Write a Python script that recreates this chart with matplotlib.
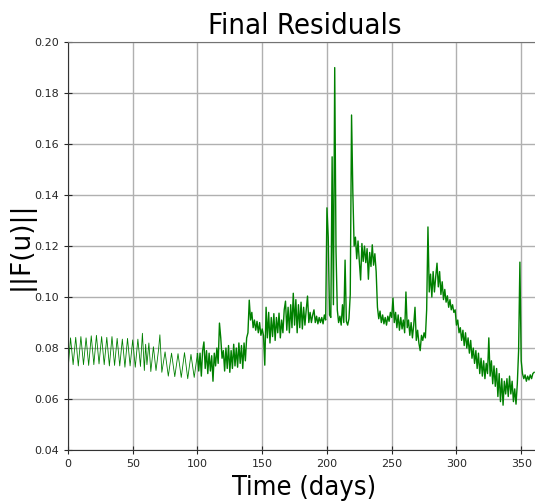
#!/usr/bin/env python3

import matplotlib
matplotlib.use('Agg')
import matplotlib.pyplot as plt
import numpy

#early part, oscillating (peak / trough days)
daysEarly = [0, 2, 4, 6, 8, 10, 12, 14, 16, 18, 20, 22, 24, 26, 28, 30, 32, 34, 36, 38,
             40, 42, 44, 46, 48, 50, 52, 54, 56, 57.5, 59, 60, 61, 62.5, 64, 66, 68, 70, 71, 72.5,
             75, 77.5, 80, 82.5, 85, 87.5, 90, 92.5, 95, 97.5, 100]
residEarly = [0.071, 0.084, 0.0735, 0.0842, 0.073, 0.0845, 0.0735, 0.084, 0.0732, 0.0848,
              0.0735, 0.085, 0.0738, 0.0845, 0.0735, 0.0842, 0.073, 0.0845, 0.0732, 0.0838,
              0.073, 0.0835, 0.0725, 0.0838, 0.073, 0.0832, 0.0725, 0.0835, 0.0728, 0.0858,
              0.0712, 0.0815, 0.0735, 0.082, 0.0708, 0.0805, 0.0712, 0.0795, 0.0852, 0.0705,
              0.0785, 0.069, 0.078, 0.0688, 0.0778, 0.0685, 0.0782, 0.068, 0.0775, 0.0685, 0.0778]

#daily values from day 101 to 360
daysLate = numpy.arange(101, 361)
residLate = [
    0.071, 0.078, 0.069, 0.079, 0.0824, 0.072, 0.079, 0.070, 0.078, 0.071,
    0.077, 0.067, 0.078, 0.073, 0.080, 0.074, 0.0898, 0.084, 0.076, 0.079,
    0.071, 0.080, 0.072, 0.081, 0.0705, 0.079, 0.072, 0.0815, 0.073, 0.080,
    0.0725, 0.082, 0.074, 0.081, 0.072, 0.082, 0.075, 0.084, 0.086, 0.0988,
    0.091, 0.094, 0.088, 0.091, 0.087, 0.0905, 0.086, 0.090, 0.085, 0.0875,
    0.085, 0.0733, 0.096, 0.084, 0.094, 0.082, 0.092, 0.0845, 0.0935, 0.083,
    0.092, 0.086, 0.0937, 0.084, 0.091, 0.086, 0.095, 0.0984, 0.087, 0.096,
    0.086, 0.097, 0.088, 0.1015, 0.089, 0.099, 0.086, 0.097, 0.088, 0.098,
    0.0875, 0.096, 0.089, 0.095, 0.1004, 0.090, 0.094, 0.090, 0.093, 0.095,
    0.090, 0.0925, 0.0895, 0.092, 0.090, 0.092, 0.0895, 0.093, 0.091, 0.135,
    0.1235, 0.093, 0.092, 0.155, 0.097, 0.190, 0.118, 0.095, 0.090, 0.0925,
    0.089, 0.097, 0.090, 0.1145, 0.0905, 0.089, 0.0915, 0.101, 0.1714, 0.141,
    0.120, 0.1235, 0.115, 0.122, 0.114, 0.1067, 0.121, 0.114, 0.120, 0.1135,
    0.119, 0.107, 0.1175, 0.112, 0.1205, 0.1125, 0.117, 0.110, 0.096, 0.0915,
    0.0945, 0.090, 0.093, 0.0895, 0.092, 0.089, 0.0925, 0.0905, 0.094, 0.092,
    0.0996, 0.090, 0.094, 0.088, 0.093, 0.087, 0.092, 0.0875, 0.091, 0.086,
    0.102, 0.088, 0.091, 0.085, 0.090, 0.084, 0.089, 0.096, 0.083, 0.087,
    0.082, 0.079, 0.085, 0.083, 0.086, 0.084, 0.095, 0.1275, 0.102, 0.109,
    0.100, 0.110, 0.102, 0.108, 0.1133, 0.104, 0.110, 0.101, 0.106, 0.099,
    0.103, 0.098, 0.1005, 0.096, 0.099, 0.095, 0.097, 0.094, 0.095, 0.089,
    0.091, 0.086, 0.088, 0.083, 0.087, 0.081, 0.086, 0.080, 0.084, 0.078,
    0.083, 0.076, 0.080, 0.074, 0.079, 0.072, 0.078, 0.070, 0.076, 0.069,
    0.075, 0.068, 0.074, 0.070, 0.084, 0.069, 0.075, 0.066, 0.073, 0.065,
    0.072, 0.061, 0.070, 0.059, 0.068, 0.0576, 0.067, 0.062, 0.068, 0.061,
    0.069, 0.062, 0.067, 0.059, 0.064, 0.058, 0.066, 0.079, 0.1137, 0.075,
    0.070, 0.068, 0.0695, 0.067, 0.069, 0.0675, 0.0695, 0.068, 0.070, 0.0705]

yTicks = [0.04, 0.06, 0.08, 0.10, 0.12, 0.14, 0.16, 0.18, 0.20]
xTicks = [0, 50, 100, 150, 200, 250, 300, 350]

fig = plt.figure(figsize=(5.35, 5.04), dpi=100)
#axes run past the right edge, like the original crop
ax = fig.add_axes([0.127, 0.107, 0.8835, 0.8095])

#thin line for the smooth oscillation, a bit heavier where the signal is noisy
ax.plot(daysEarly, residEarly, color='green', linewidth=0.6)
ax.plot(numpy.concatenate([[daysEarly[-1]], daysLate]),
        numpy.concatenate([[residEarly[-1]], residLate]), color='green', linewidth=1.0)

ax.set_xlim(0, 365)
ax.set_ylim(0.04, 0.20)
ax.set_xticks(xTicks)
ax.set_yticks(yTicks)
ax.set_yticklabels(['%.2f' % t for t in yTicks])
ax.grid(True, color='#b0b0b0', linewidth=1)
ax.set_axisbelow(True)
ax.tick_params(direction='inout', length=6, labelsize=8, colors='0.15')

ax.spines['right'].set_visible(False)
ax.spines['top'].set_color('0.45')
ax.spines['left'].set_color('0.2')
ax.spines['bottom'].set_color('0.2')

ax.set_title('Final Residuals', fontsize=21, fontstretch='condensed', pad=6)
ax.set_xlabel('Time (days)', fontsize=19.5, fontstretch='condensed', labelpad=4)
ax.set_ylabel('||F(u)||', fontsize=19, labelpad=0)

fig.savefig('out.png', dpi=100)
